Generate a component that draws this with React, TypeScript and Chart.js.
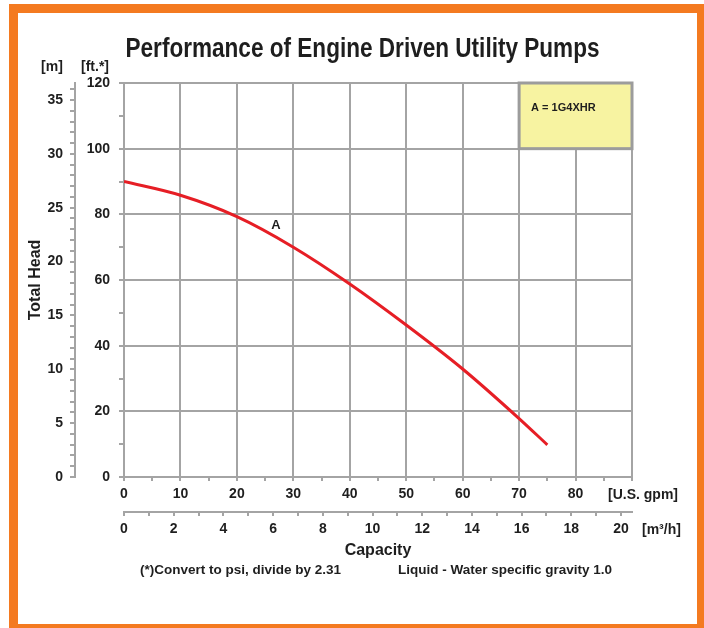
import React, { useEffect, useRef } from 'react';
import { Chart, registerables } from 'chart.js';

Chart.register(...registerables);

// ---- data ----
const capacityGpm = [0, 10, 20, 30, 40, 50, 60, 70, 75];
const headFt = [90, 85.8, 79.3, 70, 58.8, 46.3, 32.9, 17.8, 9.8];
const curveName = 'A';
const curveLabelGpm = 26.9;
const curveLabelFt = 76.7;
const legendText = 'A = 1G4XHR';
const legendGpmRange = [70, 90];
const legendFtRange = [100, 120];

const gpmMax = 90;
const ftMax = 120;
const FT_PER_M = 3.28084;
const M3H_PER_GPM = 0.2271247;

const titleText = 'Performance of Engine Driven Utility Pumps';
const yTitle = 'Total Head';
const xTitle = 'Capacity';
const footnoteLeft = '(*)Convert to psi, divide by 2.31';
const footnoteRight = 'Liquid - Water specific gravity 1.0';
const unitM = '[m]';
const unitFt = '[ft.*]';
const unitGpm = '[U.S. gpm]';
const unitM3h = '[m\u00b3/h]';

// ---- styles ----
const GRAY = '#a4a4a4';
const CLEAR = 'rgba(0,0,0,0)';
const TEXT = '#1e1e1e';
const RED = '#e61e25';
const ORANGE = '#f47a20';
const SANS = "'Liberation Sans', Arial, Helvetica, sans-serif";
const tickFont = { family: SANS, size: 14, weight: 'bold' as const };

const overlay = {
  id: 'overlay',
  beforeDatasetsDraw(chart: any) {
    const { ctx } = chart;
    const x = chart.scales.x;
    const y = chart.scales.y;
    const l = x.getPixelForValue(legendGpmRange[0]);
    const r = x.getPixelForValue(legendGpmRange[1]);
    const t = y.getPixelForValue(legendFtRange[1]);
    const b = y.getPixelForValue(legendFtRange[0]);
    ctx.save();
    ctx.fillStyle = '#f7f3a1';
    ctx.fillRect(l, t, r - l, b - t);
    ctx.strokeStyle = '#9c9c9c';
    ctx.lineWidth = 3;
    ctx.strokeRect(l, t, r - l, b - t);
    ctx.fillStyle = TEXT;
    ctx.font = `bold 11px ${SANS}`;
    ctx.textAlign = 'left';
    ctx.textBaseline = 'middle';
    ctx.fillText(legendText, l + 12, t + 25);
    ctx.restore();
  },
  afterDraw(chart: any) {
    const { ctx, chartArea } = chart;
    const x = chart.scales.x;
    const y = chart.scales.y;
    const x2 = chart.scales.x2;
    const y2 = chart.scales.y2;
    ctx.save();
    ctx.fillStyle = TEXT;
    // title
    ctx.textAlign = 'center';
    ctx.textBaseline = 'alphabetic';
    ctx.font = `bold 27px ${SANS}`;
    ctx.fillText(titleText, chart.width / 2 + 5, 43.5, 474);
    // unit labels
    ctx.textBaseline = 'middle';
    ctx.font = `bold 14px ${SANS}`;
    ctx.fillText(unitM, y2.right - 23, chartArea.top - 16);
    ctx.fillText(unitFt, y.left + 20, chartArea.top - 16);
    ctx.textAlign = 'left';
    ctx.fillText(unitGpm, chartArea.right - 24, x.top + 18);
    ctx.fillText(unitM3h, chartArea.right + 10, x2.top + 18);
    // footnote
    ctx.font = `bold 13.5px ${SANS}`;
    ctx.textAlign = 'left';
    ctx.fillText(footnoteLeft, chartArea.left + 16, x2.bottom + 6);
    ctx.textAlign = 'right';
    ctx.fillText(footnoteRight, chartArea.right - 20, x2.bottom + 6);
    // curve name
    ctx.textAlign = 'center';
    ctx.font = `bold 13px ${SANS}`;
    ctx.fillText(curveName, x.getPixelForValue(curveLabelGpm), y.getPixelForValue(curveLabelFt));
    ctx.restore();
  },
};

export default function App() {
  const ref = useRef<HTMLCanvasElement | null>(null);

  useEffect(() => {
    const canvas = ref.current;
    if (!canvas) return;
    const chart = new Chart(canvas, {
      type: 'scatter',
      data: {
        datasets: [
          {
            label: curveName,
            data: capacityGpm.map((g, i) => ({ x: g, y: headFt[i] })),
            showLine: true,
            borderColor: RED,
            borderWidth: 3,
            pointRadius: 0,
            tension: 0.4,
            cubicInterpolationMode: 'monotone',
            xAxisID: 'x',
            yAxisID: 'y',
          } as any,
        ],
      },
      options: {
        responsive: false,
        animation: false,
        devicePixelRatio: 1,
        layout: { padding: { left: 10, top: 70, right: 0, bottom: 60 } },
        plugins: {
          legend: { display: false },
          tooltip: { enabled: false },
          title: { display: false },
        },
        scales: {
          x: {
            type: 'linear',
            position: 'bottom',
            weight: 0,
            min: 0,
            max: gpmMax,
            ticks: {
              stepSize: 5,
              autoSkip: false,
              maxRotation: 0,
              padding: 5,
              color: TEXT,
              font: tickFont,
              callback: (v: any) => (v % 10 === 0 && v < gpmMax ? String(v) : ''),
            },
            grid: {
              color: (c: any) => (c.tick && c.tick.value % 10 === 0 ? GRAY : CLEAR),
              lineWidth: 2,
              tickColor: GRAY,
              tickLength: 4,
              tickWidth: 2,
            },
            border: { color: GRAY, width: 2 },
            afterFit: (s: any) => { s.height = 35; },
          },
          y: {
            type: 'linear',
            position: 'left',
            weight: 0,
            min: 0,
            max: ftMax,
            ticks: {
              stepSize: 10,
              autoSkip: false,
              padding: 9,
              color: TEXT,
              font: tickFont,
              callback: (v: any) => (v % 20 === 0 ? String(v) : ''),
            },
            grid: {
              color: (c: any) => (c.tick && c.tick.value % 20 === 0 ? GRAY : CLEAR),
              lineWidth: 2,
              tickColor: GRAY,
              tickLength: 5,
              tickWidth: 2,
            },
            border: { color: GRAY, width: 2 },
            afterFit: (s: any) => { s.width = 49; },
          },
          x2: {
            type: 'linear',
            position: 'bottom',
            weight: 1,
            min: 0,
            max: gpmMax * M3H_PER_GPM,
            ticks: {
              stepSize: 1,
              autoSkip: false,
              includeBounds: false,
              maxRotation: 0,
              padding: 5,
              color: TEXT,
              font: tickFont,
              callback: (v: any) => (Number.isInteger(v) && v % 2 === 0 ? String(v) : ''),
            },
            grid: {
              drawOnChartArea: false,
              color: GRAY,
              tickColor: GRAY,
              tickLength: 4,
              lineWidth: 2,
              tickWidth: 2,
            },
            border: { color: GRAY, width: 2 },
            title: {
              display: true,
              text: xTitle,
              color: TEXT,
              font: { family: SANS, size: 16, weight: 'bold' },
              padding: { top: 0, bottom: 4 },
            },
            afterFit: (s: any) => { s.height = 52; },
          },
          y2: {
            type: 'linear',
            position: 'left',
            weight: 1,
            min: 0,
            max: ftMax / FT_PER_M,
            ticks: {
              stepSize: 1,
              autoSkip: false,
              includeBounds: false,
              padding: 7,
              color: TEXT,
              font: tickFont,
              callback: (v: any) => (Number.isInteger(v) && v % 5 === 0 ? String(v) : ''),
            },
            grid: {
              drawOnChartArea: false,
              color: GRAY,
              tickColor: GRAY,
              tickLength: 5,
              lineWidth: 2,
              tickWidth: 2,
            },
            border: { color: GRAY, width: 2 },
            title: {
              display: true,
              text: yTitle,
              color: TEXT,
              font: { family: SANS, size: 16, weight: 'bold', lineHeight: 1 },
              padding: { top: 0, bottom: 0 },
            },
            afterFit: (s: any) => { s.width = 47; },
          },
          yR: {
            type: 'linear',
            position: 'right',
            min: 0,
            max: 1,
            grid: { display: false },
            ticks: { display: false },
            border: { display: false },
            afterFit: (s: any) => { s.width = 65; },
          },
        },
      } as any,
      plugins: [overlay],
    });
    return () => chart.destroy();
  }, []);

  return (
    <div style={{ position: 'fixed', left: 0, top: 0, width: 704, height: 628, overflow: 'hidden', background: '#fff' }}>
      <div
        style={{
          position: 'absolute',
          left: 9,
          top: 4,
          width: 697,
          height: 629,
          border: `9px solid ${ORANGE}`,
          boxSizing: 'border-box',
        }}
      >
        <canvas ref={ref} width={679} height={611} style={{ display: 'block', width: 679, height: 611 }} />
      </div>
    </div>
  );
}
